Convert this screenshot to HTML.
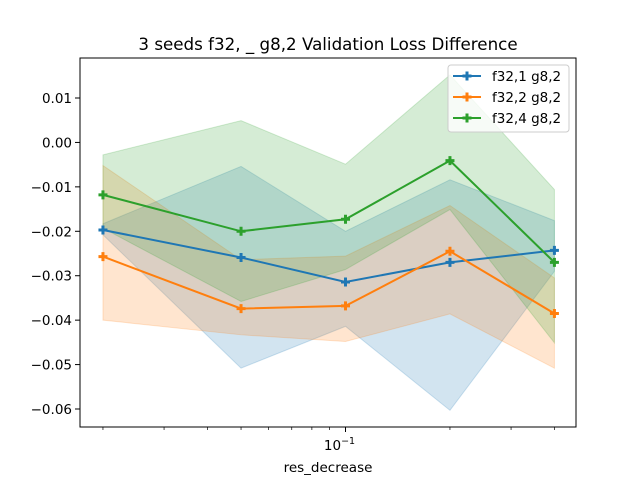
<!DOCTYPE html>
<html><head><meta charset="utf-8"><style>
body{margin:0;background:#fff;}
svg text{font-family:"DejaVu Sans","Liberation Sans",sans-serif;fill:#000;}
</style></head><body>
<svg id="chart" width="640" height="480" xmlns="http://www.w3.org/2000/svg">
<rect width="640" height="480" fill="#fff"/>
<text x="328" y="50" font-size="16.7" text-anchor="middle">3 seeds f32, _ g8,2 Validation Loss Difference</text>
<g id="bands"></g><g id="lines"></g>
<rect x="80" y="58" width="496" height="369" fill="none" stroke="#000" stroke-width="1"/>
<g id="axes"></g>
<text x="328" y="472" font-size="13.5" text-anchor="middle">res_decrease</text>
<g id="legend"></g>
</svg>
<script>
const xValues=[0.02,0.05,0.1,0.2,0.4];
const seriesNames=["f32,1 g8,2","f32,2 g8,2","f32,4 g8,2"];
const colors=["#1f77b4","#ff7f0e","#2ca02c"];
const blueMean=[-0.0197,-0.0259,-0.0314,-0.0270,-0.0243];
const blueUpper=[-0.0183,-0.0054,-0.0200,-0.0084,-0.0176];
const blueLower=[-0.0208,-0.0508,-0.0414,-0.0603,-0.0290];
const orangeMean=[-0.0257,-0.0374,-0.0368,-0.0245,-0.0385];
const orangeUpper=[-0.0052,-0.0264,-0.0256,-0.0142,-0.0305];
const orangeLower=[-0.0400,-0.0433,-0.0448,-0.0386,-0.0508];
const greenMean=[-0.0118,-0.0200,-0.0173,-0.0041,-0.0270];
const greenUpper=[-0.0028,0.0049,-0.0049,0.0152,-0.0106];
const greenLower=[-0.0193,-0.0358,-0.0286,-0.0151,-0.0451];
const yTicks=[0.01,0,-0.01,-0.02,-0.03,-0.04,-0.05,-0.06];
const yTickLabels=["0.01","0.00","−0.01","−0.02","−0.03","−0.04","−0.05","−0.06"];
const xMinorTicks=[0.02,0.03,0.04,0.05,0.06,0.07,0.08,0.09,0.2,0.3,0.4];

const NS="http://www.w3.org/2000/svg";
function X(v){return 345.5+347*Math.log10(v/0.1);}
function Y(v){return 98+(0.01-v)*4443;}
function mk(tag,attrs,parent){const e=document.createElementNS(NS,tag);for(const k in attrs)e.setAttribute(k,attrs[k]);parent.appendChild(e);return e;}
const bands=document.getElementById('bands'),lines=document.getElementById('lines'),axes=document.getElementById('axes'),legend=document.getElementById('legend');
const means=[blueMean,orangeMean,greenMean],ups=[blueUpper,orangeUpper,greenUpper],lows=[blueLower,orangeLower,greenLower];
for(let s=0;s<3;s++){
  let pts=xValues.map((x,i)=>X(x)+","+Y(ups[s][i]));
  pts=pts.concat(xValues.map((x,i)=>X(x)+","+Y(lows[s][i])).reverse());
  const b=mk('polygon',{points:pts.join(' '),fill:colors[s],'fill-opacity':0.2,stroke:colors[s],'stroke-opacity':0.2},bands);
  
  
}
for(let s=0;s<3;s++){
  const l=mk('polyline',{points:xValues.map((x,i)=>X(x)+","+Y(means[s][i])).join(' '),fill:'none',stroke:colors[s],'stroke-width':2},lines);
  
  
  xValues.forEach((x,i)=>{
    const m=mk('path',{d:`M${X(x)-4.5},${Y(means[s][i])}h9M${X(x)},${Y(means[s][i])-4.5}v9`,stroke:colors[s],'stroke-width':3},lines);
    
    
  });
}
yTicks.forEach((v,i)=>{
  const t=mk('line',{x1:75,x2:80,y1:Y(v),y2:Y(v),stroke:'#000'},axes);
  
  
  const tx=mk('text',{x:72,y:Y(v)+5,'font-size':13.5,'text-anchor':'end'},axes);
  tx.textContent=yTickLabels[i];
  
  
});
xMinorTicks.forEach(v=>{
  const t=mk('line',{x1:X(v),x2:X(v),y1:427,y2:430,stroke:'#000','stroke-width':0.7},axes);
  
  
});
const mt=mk('line',{x1:X(0.1),x2:X(0.1),y1:427,y2:432,stroke:'#000'},axes);


const xl=mk('text',{x:X(0.1)-6,y:450,'font-size':13.5,'text-anchor':'middle'},axes);
xl.innerHTML='10<tspan font-size="9.5" dy="-6">−1</tspan>';


const lb=mk('rect',{x:448,y:65,width:121,height:67,rx:3,fill:'#fff','fill-opacity':0.8,stroke:'#ccc'},legend);


seriesNames.forEach((n,s)=>{
  const y=76+s*21;
  const g=mk('g',{},legend);
  
  
  mk('line',{x1:453,x2:481,y1:y,y2:y,stroke:colors[s],'stroke-width':2},g);
  mk('path',{d:`M462.5,${y}h9M467,${y-4.5}v9`,stroke:colors[s],'stroke-width':3},g);
  const t=mk('text',{x:492,y:y+5,'font-size':13.5},g);
  t.textContent=n;
});
</script>
</body></html>
